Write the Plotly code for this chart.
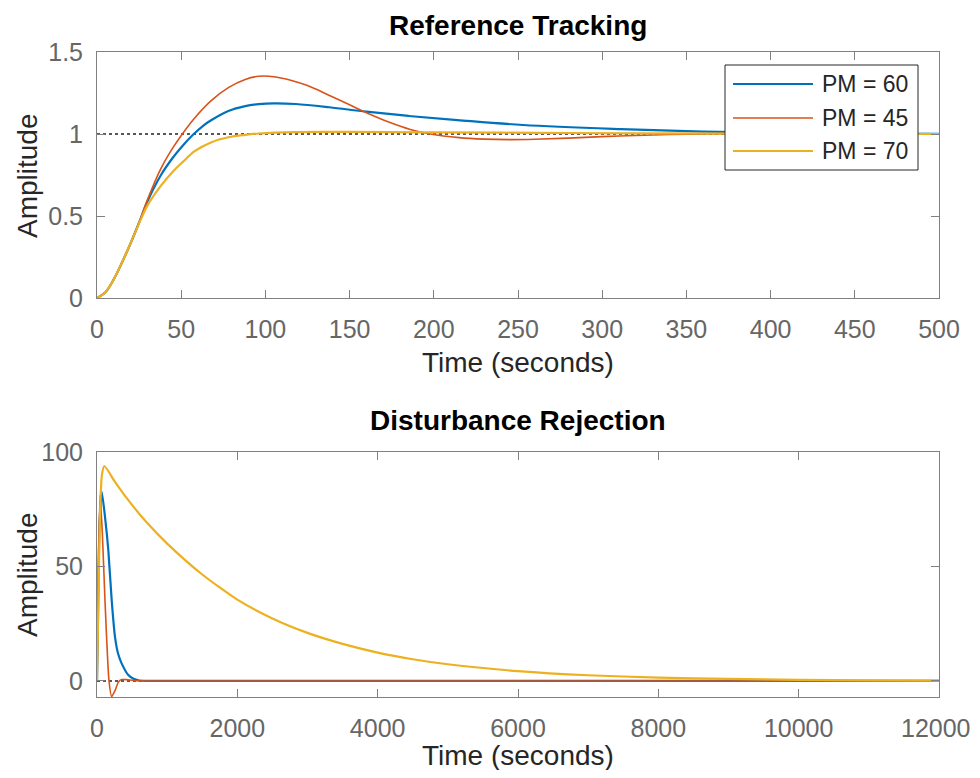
import plotly.graph_objects as go

# ---- data ----
series_names = ["PM = 60", "PM = 45", "PM = 70"]
series_colors = ["#0072BD", "#D95319", "#EDB120"]
series_widths = [2.2, 1.6, 2.2]

# Reference tracking (step response)
ref_t_pm60 = [0, 5, 10, 15, 20, 25, 30, 38, 45, 51, 57, 63, 68, 78, 88, 96, 105, 118, 138, 160, 185,
              214, 253, 311, 360, 400, 450, 500]
ref_y_pm60 = [0, 0.035, 0.115, 0.22, 0.335, 0.46, 0.59, 0.75, 0.855, 0.93, 0.995, 1.05, 1.085, 1.14,
              1.17, 1.182, 1.187, 1.183, 1.163, 1.136, 1.11, 1.085, 1.055, 1.03, 1.015, 1.008, 1.003,
              1.001]
ref_t_pm45 = [0, 5, 10, 15, 20, 25, 30, 38, 45, 51, 58, 68, 78, 88, 96, 106, 115, 125, 138, 150, 160,
              174, 186, 198, 215, 230, 245, 260, 280, 310, 340, 370, 400, 450, 500]
ref_y_pm45 = [0, 0.035, 0.115, 0.22, 0.335, 0.46, 0.60, 0.79, 0.915, 1.005, 1.098, 1.205, 1.283, 1.333,
              1.352, 1.348, 1.328, 1.295, 1.235, 1.178, 1.13, 1.07, 1.028, 1.0, 0.978, 0.969, 0.966,
              0.968, 0.975, 0.988, 0.997, 1.002, 1.003, 1.001, 1.0]
ref_t_pm70 = [0, 5, 10, 15, 20, 25, 30, 38, 45, 51, 58, 68, 78, 88, 96, 118, 150, 200, 260, 320, 400, 500]
ref_y_pm70 = [0, 0.035, 0.115, 0.22, 0.335, 0.455, 0.565, 0.685, 0.77, 0.83, 0.895, 0.95, 0.98, 0.995,
              1.003, 1.012, 1.013, 1.01, 1.007, 1.004, 1.002, 1.0]
ref_final = [1, 1]
ref_final_t = [0, 500]

# Disturbance rejection
dist_t_pm60 = [0, 15, 35, 67, 114, 161, 209, 256, 300, 351, 446, 520, 589, 700, 1000, 12000]
dist_y_pm60 = [0, 30, 68, 82.7, 71.7, 57.2, 35.4, 19.4, 12, 7.7, 2.6, 1.0, 0.3, 0.05, 0, 0]
dist_t_pm45 = [0, 15, 43, 76, 114, 171, 209, 260, 304, 351, 420, 520, 700, 12000]
dist_y_pm45 = [0, 40, 81.2, 64.6, 35, 0, -6.8, -4, -0.5, 0.6, 0.6, 0.2, 0, 0]
dist_t_pm70 = [0, 20, 45, 70, 104, 256, 446, 700, 1000, 1500, 2000, 2500, 3000, 3500, 4000, 4500,
               5000, 6000, 7000, 8000, 9000, 10000, 11000, 12000]
dist_y_pm70 = [0, 35, 75, 90, 93.9, 87, 79, 69.5, 60, 46.5, 35.5, 27.3, 21, 16.2, 12.4, 9.5, 7.3, 4.3,
               2.5, 1.5, 0.9, 0.5, 0.3, 0.15]
dist_final = [0, 0]
dist_final_t = [0, 12000]

ref_xticks = [0, 50, 100, 150, 200, 250, 300, 350, 400, 450, 500]
ref_yticks = [0, 0.5, 1, 1.5]
ref_ytext = ["0", "0.5", "1", "1.5"]
dist_xticks = [0, 2000, 4000, 6000, 8000, 10000, 12000]
# last label is drawn separately so it does not spill past the page edge
dist_xtext = ["0", "2000", "4000", "6000", "8000", "10000", ""]
dist_last_label = "12000"
dist_yticks = [0, 50, 100]

# ---- layout helpers (page pixel -> paper); page body adds an 8 px offset ----
W, H = 964, 762
L, R, T, B = 89, 33, 44, 73
OFF = 8


def px_x(px):
    return (px - OFF - L) / (W - L - R)


def px_y(py):
    return (H - B - (py - OFF)) / (H - T - B)


FONT = "Liberation Sans, Arial, sans-serif"
TICK_FONT = dict(family=FONT, size=25, color="#666666")

fig = go.Figure()

# steady-state dotted lines
fig.add_trace(go.Scatter(x=ref_final_t, y=ref_final, mode="lines", xaxis="x", yaxis="y",
                         line=dict(color="#222222", width=1.6, dash="dot"), showlegend=False))
fig.add_trace(go.Scatter(x=dist_final_t, y=dist_final, mode="lines", xaxis="x2", yaxis="y2",
                         line=dict(color="#222222", width=1.6, dash="dot"), showlegend=False))

ref_data = [(ref_t_pm60, ref_y_pm60), (ref_t_pm45, ref_y_pm45), (ref_t_pm70, ref_y_pm70)]
dist_data = [(dist_t_pm60, dist_y_pm60), (dist_t_pm45, dist_y_pm45), (dist_t_pm70, dist_y_pm70)]
for name, color, width, (tx, ty), (dx, dy) in zip(series_names, series_colors, series_widths,
                                                    ref_data, dist_data):
    fig.add_trace(go.Scatter(x=tx, y=ty, mode="lines", name=name, xaxis="x", yaxis="y",
                             line=dict(color=color, width=width, shape="spline", smoothing=1.0),
                             showlegend=False))
    fig.add_trace(go.Scatter(x=dx, y=dy, mode="lines", name=name, xaxis="x2", yaxis="y2",
                             line=dict(color=color, width=width, shape="spline", smoothing=0.6),
                             showlegend=False))

axis_common = dict(
    showline=True, linecolor="#808080", linewidth=1, mirror="ticks",
    ticks="inside", ticklen=8, tickcolor="#808080", tickwidth=1,
    showgrid=False, zeroline=False,
    tickfont=TICK_FONT,
)

fig.update_layout(
    width=W, height=H,
    margin=dict(l=L, r=R, t=T, b=B),
    paper_bgcolor="white", plot_bgcolor="white",
    font=dict(family=FONT),
    xaxis=dict(axis_common, domain=[0, 1], range=[0, 500], tickvals=ref_xticks,
               anchor="y", ticklabelstandoff=9),
    yaxis=dict(axis_common, domain=[px_y(298), 1], range=[0, 1.5], tickvals=ref_yticks,
               ticktext=ref_ytext, anchor="x", ticklabelstandoff=8),
    xaxis2=dict(axis_common, domain=[0, 1], range=[0, 12000], tickvals=dist_xticks,
                ticktext=dist_xtext, anchor="y2", ticklabelstandoff=9),
    yaxis2=dict(axis_common, domain=[0, px_y(452)], range=[-7, 100], tickvals=dist_yticks,
                anchor="x2", ticklabelstandoff=8),
)

# titles and axis labels
title_font = dict(family=FONT, size=28, color="#000000")
label_font = dict(family=FONT, size=28, color="#262626")
ann = [
    dict(text="<b>Reference Tracking</b>", x=px_x(518), y=px_y(25), font=title_font),
    dict(text="<b>Disturbance Rejection</b>", x=px_x(518), y=px_y(420), font=title_font),
    dict(text="Time (seconds)", x=px_x(518), y=px_y(362), font=label_font),
    dict(text="Time (seconds)", x=px_x(518), y=px_y(755), font=label_font),
    dict(text="Amplitude", x=px_x(27), y=px_y(176), font=label_font, textangle=-90),
    dict(text="Amplitude", x=px_x(27), y=px_y(575), font=label_font, textangle=-90),
]
for a in ann:
    fig.add_annotation(xref="paper", yref="paper", showarrow=False,
                       xanchor="center", yanchor="middle", **a)

# last bottom x tick label, right-aligned to the page edge
fig.add_annotation(xref="paper", yref="paper", showarrow=False, text=dist_last_label,
                   x=px_x(973), y=px_y(728), xanchor="right", yanchor="middle",
                   font=TICK_FONT)

# legend drawn as a box in the top axes
fig.add_shape(type="rect", xref="paper", yref="paper", layer="above",
              x0=px_x(725), x1=px_x(918), y0=px_y(170), y1=px_y(65),
              line=dict(color="#262626", width=1), fillcolor="white")
legend_rows = [84, 118, 151]
for name, color, width, row in zip(series_names, series_colors, series_widths, legend_rows):
    fig.add_shape(type="line", xref="paper", yref="paper", layer="above",
                  x0=px_x(733), x1=px_x(813), y0=px_y(row), y1=px_y(row),
                  line=dict(color=color, width=width))
    fig.add_annotation(xref="paper", yref="paper", showarrow=False, text=name,
                       x=px_x(820), y=px_y(row), xanchor="left", yanchor="middle",
                       font=dict(family=FONT, size=23, color="#262626"))

fig.write_html("out.html")
